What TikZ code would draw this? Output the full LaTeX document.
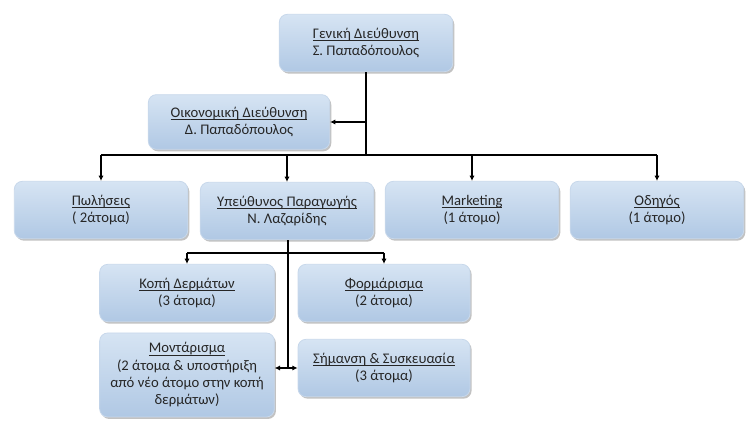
\documentclass[tikz,border=0pt]{standalone}
\usepackage{fontspec}
\setmainfont{Carlito}
\usepackage{xcolor}
\usepackage{tikz}
\usetikzlibrary{shadows,arrows.meta}
\definecolor{boxtop}{RGB}{214,228,243}
\definecolor{boxbottom}{RGB}{176,200,228}
\definecolor{boxline}{RGB}{200,216,235}
\newcommand{\ulname}[1]{\setbox0\hbox{#1}\leavevmode\rlap{\rule[-1.8pt]{\wd0}{0.5pt}}\box0}

\begin{document}
\begin{tikzpicture}[x=0.75pt, y=-0.75pt, font=\fontsize{11}{13}\selectfont,
  unit/.style={rectangle, rounded corners=6pt, draw=boxline, line width=0.6pt,
    top color=boxtop, bottom color=boxbottom, align=center, inner sep=2pt,
    text=black!85,
    drop shadow={shadow xshift=1.2pt, shadow yshift=-1.5pt, opacity=0.4, fill=black!60}},
  link/.style={line width=1.3pt, black},
  tip/.style={link, -{Latex[length=4pt, width=4pt]}}]
\useasboundingbox (0,0) rectangle (751,423);

% Management
\node[unit, minimum width=130pt, minimum height=43pt] (gen) at (366,43)
  {\ulname{Γενική Διεύθυνση}\\Σ. Παπαδόπουλος};
\node[unit, minimum width=136pt, minimum height=41pt] (oik) at (239,122)
  {\ulname{Οικονομική Διεύθυνση}\\Δ. Παπαδόπουλος};

% Departments
\node[unit, minimum width=130pt, minimum height=43pt] (pol) at (101,210)
  {\ulname{Πωλήσεις}\\( 2άτομα)};
\node[unit, minimum width=130pt, minimum height=43pt] (yp) at (287,211)
  {\ulname{Υπεύθυνος Παραγωγής}\\Ν. Λαζαρίδης};
\node[unit, minimum width=130pt, minimum height=43pt] (mkt) at (472,210)
  {\ulname{Marketing}\\(1 άτομο)};
\node[unit, minimum width=130pt, minimum height=43pt] (odi) at (657,210)
  {\ulname{Οδηγός}\\(1 άτομο)};

% Production
\node[unit, minimum width=131pt, minimum height=43pt] (kopi) at (187,293)
  {\ulname{Κοπή Δερμάτων}\\(3 άτομα)};
\node[unit, minimum width=129pt, minimum height=43pt] (form) at (384,293)
  {\ulname{Φορμάρισμα}\\(2 άτομα)};
\node[unit, minimum width=131pt, minimum height=63pt] (mont) at (187,375)
  {\ulname{Μοντάρισμα}\\(2 άτομα \& υποστήριξη\\από νέο άτομο στην κοπή\\δερμάτων)};
\node[unit, minimum width=129pt, minimum height=43pt] (sim) at (384,368)
  {\ulname{Σήμανση \& Συσκευασία}\\(3 άτομα)};

% Connectors from the top
\coordinate (bus) at (366,155);
\draw[link] (gen.south) -- (gen.south |- bus);
\draw[tip] (gen.south |- oik.east) -- (oik.east);
\draw[link] (pol.north |- bus) -- (odi.north |- bus);
\foreach \n in {pol,yp,mkt,odi}
  \draw[tip] (\n.north |- bus) -- (\n.north);

% Connectors of production
\coordinate (split) at (288,253);
\draw[link] (yp.south -| split) -- (split |- sim.west);
\draw[link] (kopi.north |- split) -- (form.north |- split);
\draw[tip] (kopi.north |- split) -- (kopi.north);
\draw[tip] (form.north |- split) -- (form.north);
\draw[tip] (split |- sim.west) -- (mont.east |- sim.west);
\draw[tip] (split |- sim.west) -- (sim.west);
\end{tikzpicture}
\end{document}
